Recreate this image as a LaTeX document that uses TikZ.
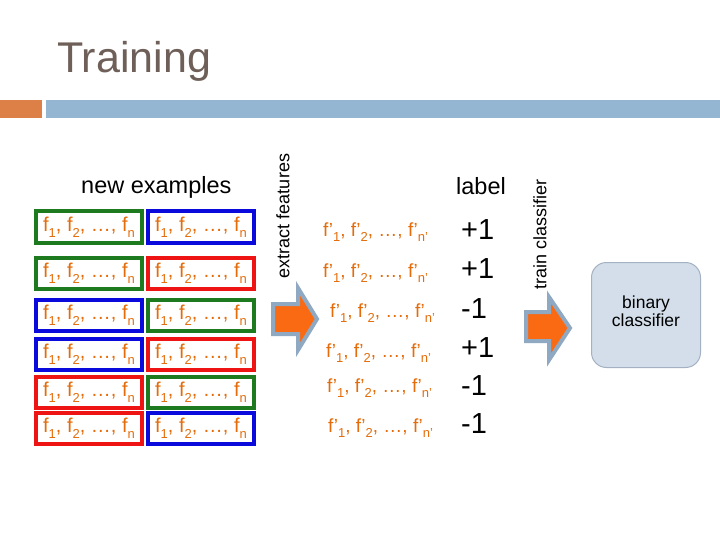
\documentclass[tikz,border=0pt]{standalone}
\usepackage{fontspec}
\setmainfont{Liberation Sans}
\usepackage{xcolor}
\definecolor{titlegray}{HTML}{6E5F58}
\definecolor{baror}{HTML}{DD8047}
\definecolor{barbl}{HTML}{94B6D2}
\definecolor{featur}{HTML}{E46C0A}
\definecolor{exgreen}{HTML}{1E7A1E}
\definecolor{exblue}{HTML}{0A0ADC}
\definecolor{exred}{HTML}{EE1414}
\definecolor{arrfill}{HTML}{FA6A12}
\definecolor{arrline}{HTML}{8FA9C2}
\definecolor{clsfill}{HTML}{D3DEEA}
\definecolor{clsline}{HTML}{A3B1C2}
\usepackage{tikz}
\newcommand{\lowsub}[1]{\raisebox{-0.28em}{\fontsize{13}{13}\selectfont #1}}
\newcommand{\fvec}{f\lowsub{1}, f\lowsub{2}, …, f\lowsub{n}}
\newcommand{\fpvec}{f'\lowsub{1}, f'\lowsub{2}, …, f'\lowsub{n'}}
\newcommand{\fsz}[1]{\fontsize{#1}{#1}\selectfont}

\begin{document}
\begin{tikzpicture}[x=1pt,y=-1pt,line join=miter,
    exbox/.style={draw,line width=4pt,minimum width=106pt,minimum height=31pt,inner sep=0pt,text=featur,font=\fsz{20}},
    fpvec/.style={anchor=west,inner sep=0pt,text=featur,font=\fsz{19}},
    lab/.style={anchor=base west,inner sep=0pt,font=\fsz{29}},
    blockarrow/.style={fill=arrfill,draw=arrline,line width=4pt}]
  \useasboundingbox (0,0) rectangle (720,540);
  % title and bars
  \node[anchor=base west,inner sep=0pt,text=titlegray,font=\fsz{43}] (title) at (57,73) {Training};
  \fill[baror] (0,100) rectangle (42,118);
  \fill[barbl] (46,100) rectangle (720,118);
  % headers
  \node[anchor=base west,inner sep=0pt,font=\fsz{23.5}] (newex) at (81,194) {new examples};
  \node[anchor=base west,inner sep=0pt,font=\fsz{23.5}] (labhead) at (456,195) {label};
  % example boxes
  \foreach \r/\y/\ca/\cb in {1/227/exgreen/exblue,2/273/exgreen/exred,3/315/exblue/exgreen,
                              4/354.5/exblue/exred,5/392/exred/exgreen,6/428.5/exred/exblue}{
    \node[exbox,draw=\ca] (exl\r) at (89,\y) {\fvec};
    \node[exbox,draw=\cb] (exr\r) at (201,\y) {\fvec};
  }
  % extracted features and labels
  \foreach \r/\x/\y in {1/323/232,2/323/273,3/330/313,4/326/353,5/327/388,6/328/428}{
    \node[fpvec] (fp\r) at (\x,\y) {\fpvec};
  }
  \foreach \r/\y/\v in {1/240/+1,2/278/+1,3/318/-1,4/357/+1,5/395/-1,6/433/-1}{
    \node[lab] (lab\r) at (461,\y) {\v};
  }
  % block arrows
  \draw[blockarrow] (273,304) -- (298,304) -- (298,288) -- (317,319) -- (298,350) -- (298,334) -- (273,334) -- cycle;
  \node[rotate=90,inner sep=0pt,font=\fsz{18}] (extract) at (283,216) {extract features};
  \draw[blockarrow] (526,312) -- (549,312) -- (549,297) -- (570,328) -- (549,360) -- (549,341) -- (526,341) -- cycle;
  \node[rotate=90,inner sep=0pt,font=\fsz{18}] (train) at (540,234) {train classifier};
  % classifier
  \node[draw=clsline,fill=clsfill,line width=1pt,rounded corners=15pt,minimum width=109pt,minimum height=105pt] (cls) at (646,315) {};
  \node[align=center,inner sep=0pt,font=\fsz{17.5}] (clstext) at (646,311) {binary\\classifier};
\end{tikzpicture}
\end{document}
